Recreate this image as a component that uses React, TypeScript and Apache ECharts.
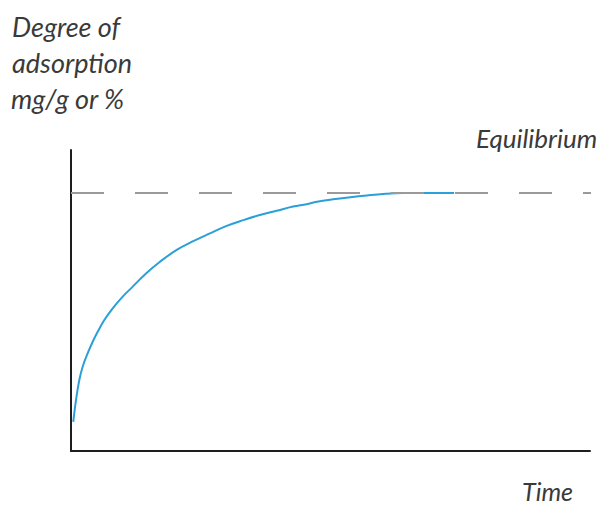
import React, { useEffect, useRef } from "react";
import * as echarts from "echarts";

// Data (x: time 0–100, y: degree of adsorption 0–100)
const timeValues = [0.44, 0.96, 1.6, 2.25, 3.22, 4.18, 5.14, 6.42, 8.03, 9.96, 11.89, 14.45, 17.15, 20.37, 23.56, 26.78, 30.0, 33.2, 36.4, 39.6, 42.8, 45.4, 47.4, 50.5, 53.8, 57.0, 60.1, 64.0, 73.8];
const adsorptionValues = [9.7, 16.9, 23.6, 28.0, 32.5, 36.3, 39.6, 43.5, 47.4, 51.3, 54.6, 59.0, 62.9, 66.8, 69.7, 72.3, 74.8, 76.7, 78.4, 79.8, 81.2, 82.0, 82.8, 83.6, 84.3, 84.9, 85.4, 85.7, 85.7];
const equilibriumLevel = 85.7;
const equilibriumSpan = [0, 102.7];
const yLabelLines = ["Degree of", "adsorption", "mg/g or %"];
const equilibriumLabel = "Equilibrium";
const xLabel = "Time";

const FONT = "Lato";
const TEXT_COLOR = "#3a3a3a";

export default function App() {
  const ref = useRef<HTMLDivElement>(null);
  useEffect(() => {
    if (!ref.current) return;
    const chart = echarts.init(ref.current, null, { renderer: "svg" });
    const curve = timeValues.map((t, i) => [t, adsorptionValues[i]]);
    const eq = equilibriumSpan.map((t) => [t, equilibriumLevel]);
    const textStyle = (txt: string, size: number) => ({
      text: txt,
      fill: TEXT_COLOR,
      font: `italic ${size}px ${FONT}`,
      verticalAlign: "middle",
      align: "left",
    });
    chart.setOption({
      animation: false,
      backgroundColor: "#ffffff",
      grid: { left: 71, top: 150, width: 519, height: 301 },
      xAxis: {
        type: "value",
        min: 0,
        max: 100,
        axisLine: { show: true, lineStyle: { color: "#1e1e1e", width: 2 } },
        axisTick: { show: false },
        axisLabel: { show: false },
        splitLine: { show: false },
      },
      yAxis: {
        type: "value",
        min: 0,
        max: 100,
        axisLine: { show: true, lineStyle: { color: "#1e1e1e", width: 2 } },
        axisTick: { show: false },
        axisLabel: { show: false },
        splitLine: { show: false },
      },
      series: [
        {
          type: "line",
          data: curve,
          smooth: 0.4,
          showSymbol: false,
          lineStyle: { color: "#2a9fd8", width: 2 },
          z: 2,
        },
        {
          type: "line",
          data: eq,
          showSymbol: false,
          clip: false,
          lineStyle: { color: "#9a9a9a", width: 2, type: [33, 31] },
          z: 3,
        },
      ],
      graphic: [
        { type: "text", x: 12, y: 26, style: textStyle(yLabelLines[0], 27) },
        { type: "text", x: 12, y: 62, style: textStyle(yLabelLines[1], 27) },
        { type: "text", x: 11, y: 98, style: textStyle(yLabelLines[2], 27) },
        { type: "text", x: 476, y: 138, style: textStyle(equilibriumLabel, 26) },
        { type: "text", x: 522, y: 491, style: textStyle(xLabel, 25) },
      ],
    });
    return () => chart.dispose();
  }, []);
  return (
    <div
      ref={ref}
      style={{ position: "fixed", left: 0, top: 0, width: 604, height: 505 }}
    />
  );
}
